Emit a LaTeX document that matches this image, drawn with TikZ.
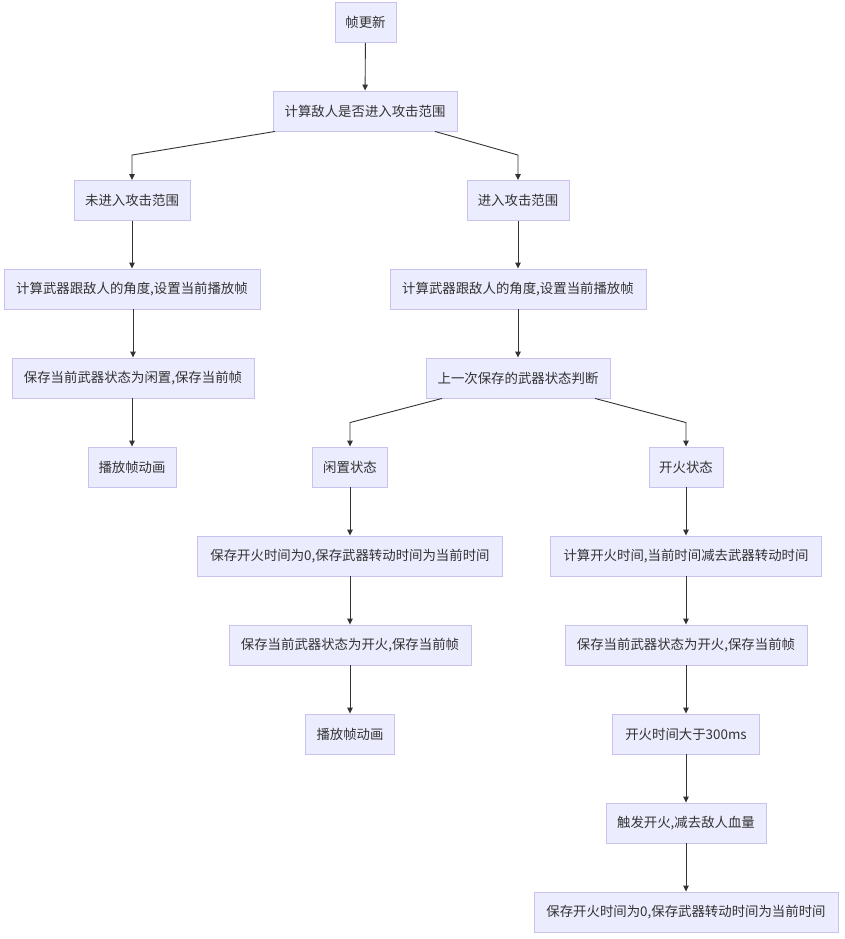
\documentclass[tikz,border=0pt]{standalone}
\usepackage{fontspec}
\setmainfont{Noto Sans CJK SC}
\usetikzlibrary{arrows.meta}
\definecolor{boxfill}{HTML}{ECECFF}
\definecolor{boxline}{HTML}{C9C2EE}
\definecolor{txt}{HTML}{333333}
\definecolor{edge}{HTML}{333333}
\begin{document}
\begin{tikzpicture}[x=1pt,y=-1pt,
  box/.style={draw=boxline,fill=boxfill,line width=0.9pt,text=txt,font=\fontsize{13.4}{15}\selectfont,
    minimum height=40pt,inner sep=0pt,anchor=center},
  arr/.style={draw=edge,line width=0.9pt,-{Triangle[width=5.5pt,length=6pt]}}]
\useasboundingbox[fill=white] (0,0) rectangle (845,939);
\node[box,minimum width=61pt] (n1) at (365.5,22.5) {帧更新};
\node[box,minimum width=184pt] (n2) at (365,111) {计算敌人是否进入攻击范围};
\node[box,minimum width=116pt] (n3) at (132,200.5) {未进入攻击范围};
\node[box,minimum width=102pt] (n4) at (518,200.5) {进入攻击范围};
\node[box,minimum width=256pt] (n5) at (132,289) {计算武器跟敌人的角度,设置当前播放帧};
\node[box,minimum width=256pt] (n6) at (518,289) {计算武器跟敌人的角度,设置当前播放帧};
\node[box,minimum width=242pt] (n7) at (133,378) {保存当前武器状态为闲置,保存当前帧};
\node[box,minimum width=184pt] (n8) at (518,378) {上一次保存的武器状态判断};
\node[box,minimum width=88pt] (n9) at (132,467) {播放帧动画};
\node[box,minimum width=75pt] (n10) at (350,467) {闲置状态};
\node[box,minimum width=74pt] (n11) at (686,467) {开火状态};
\node[box,minimum width=305pt] (n12) at (350,556) {保存开火时间为0,保存武器转动时间为当前时间};
\node[box,minimum width=271pt] (n13) at (686,556) {计算开火时间,当前时间减去武器转动时间};
\node[box,minimum width=242pt] (n14) at (350,645) {保存当前武器状态为开火,保存当前帧};
\node[box,minimum width=242pt] (n15) at (686,645) {保存当前武器状态为开火,保存当前帧};
\node[box,minimum width=89pt] (n16) at (350,734) {播放帧动画};
\node[box,minimum width=147pt] (n17) at (686,734) {开火时间大于300ms};
\node[box,minimum width=160pt] (n18) at (686,823) {触发开火,减去敌人血量};
\node[box,minimum width=304pt] (n19) at (686,912) {保存开火时间为0,保存武器转动时间为当前时间};
\draw[arr] (n1) -- (n2);
\draw[arr] ([xshift=-90pt]n2.south) -- ([yshift=25pt]n3.north) -- (n3.north);
\draw[arr] ([xshift=70pt]n2.south) -- ([yshift=25pt]n4.north) -- (n4.north);
\draw[arr] (n3) -- (n5);
\draw[arr] (n4) -- (n6);
\draw[arr] (n5.south -| n7) -- (n7);
\draw[arr] (n6) -- (n8);
\draw[arr] (n7.south -| n9) -- (n9);
\draw[arr] ([xshift=-76pt]n8.south) -- ([yshift=24pt]n10.north) -- (n10.north);
\draw[arr] ([xshift=77pt]n8.south) -- ([yshift=24pt]n11.north) -- (n11.north);
\draw[arr] (n10) -- (n12);
\draw[arr] (n11) -- (n13);
\draw[arr] (n12) -- (n14);
\draw[arr] (n13) -- (n15);
\draw[arr] (n14) -- (n16);
\draw[arr] (n15) -- (n17);
\draw[arr] (n17) -- (n18);
\draw[arr] (n18) -- (n19);
\end{tikzpicture}
\end{document}
